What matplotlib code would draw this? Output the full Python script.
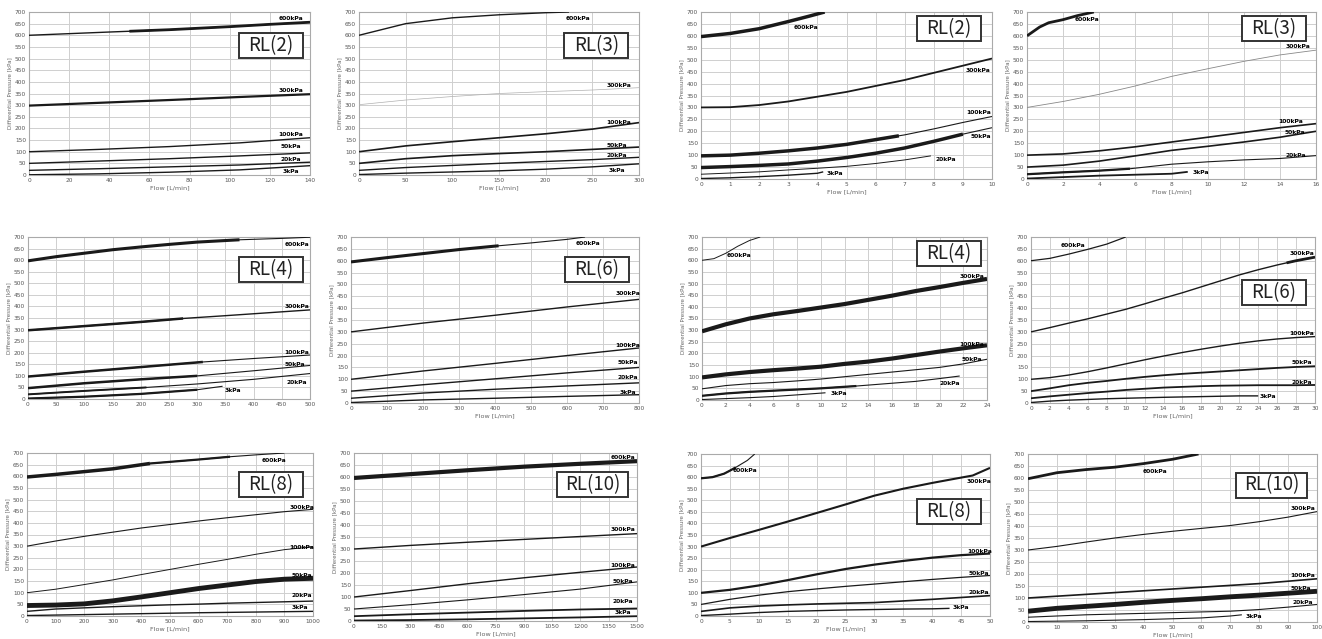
import numpy as np
import matplotlib.pyplot as plt
from matplotlib.patches import Rectangle

plt.rcParams['font.family'] = ['DejaVu Sans']

# curve names, top to bottom
names = ["600kPa", "300kPa", "100kPa", "50kPa", "20kPa", "3kPa"]

# ---- panel data: flow [L/min] -> differential pressure [kPa] ----
# RL(2), large flow
p1 = {
    "600kPa": ([0, 20, 40, 70, 100, 120, 140], [600, 607, 614, 624, 637, 647, 656]),
    "300kPa": ([0, 35, 70, 105, 140], [298, 310, 322, 335, 347]),
    "100kPa": ([0, 35, 70, 105, 140], [100, 110, 122, 138, 160]),
    "50kPa": ([0, 35, 70, 105, 140], [50, 60, 70, 82, 95]),
    "20kPa": ([0, 35, 70, 105, 140], [20, 27, 35, 43, 55]),
    "3kPa": ([0, 35, 70, 105, 140], [1, 5, 12, 22, 40]),
}
# RL(3), large flow
p2 = {
    "600kPa": ([0, 50, 100, 150, 200, 225], [600, 650, 675, 688, 697, 700]),
    "300kPa": ([0, 50, 100, 150, 200, 250, 300], [302, 322, 337, 350, 358, 365, 375]),
    "100kPa": ([0, 50, 100, 150, 200, 250, 300], [100, 125, 143, 160, 177, 197, 225]),
    "50kPa": ([0, 50, 100, 150, 200, 250, 300], [50, 70, 83, 92, 100, 110, 120]),
    "20kPa": ([0, 50, 100, 150, 200, 250, 300], [20, 32, 41, 50, 58, 66, 76]),
    "3kPa": ([0, 50, 100, 150, 200, 250, 300], [2, 8, 13, 18, 25, 35, 48]),
}
# RL(2), small flow
p3 = {
    "600kPa": ([0, 1, 2, 3, 3.7, 4.25], [597, 610, 630, 660, 682, 700]),
    "300kPa": ([0, 1, 2, 3, 4, 5, 6, 7, 8, 9, 10], [300, 301, 310, 325, 345, 365, 390, 415, 445, 475, 505]),
    "100kPa": ([0, 1, 2, 3, 4, 5, 6, 7, 8, 9, 10], [97, 100, 108, 118, 130, 145, 165, 185, 210, 237, 262]),
    "50kPa": ([0, 1, 2, 3, 4, 5, 6, 7, 8, 9, 10], [48, 52, 57, 63, 75, 90, 108, 130, 158, 188, 215]),
    "20kPa": ([0, 1, 2, 3, 4, 5, 6, 7, 7.9], [20, 25, 30, 38, 45, 53, 65, 80, 97]),
    "3kPa": ([0, 1, 2, 3, 4, 4.2], [2, 5, 10, 16, 24, 30]),
}
# RL(3), small flow
p4 = {
    "600kPa": ([0, 0.7, 1.2, 2, 2.8, 3.7], [600, 637, 655, 668, 685, 700]),
    "300kPa": ([0, 2, 4, 6, 8, 10, 12, 14, 16], [300, 325, 355, 390, 430, 462, 493, 520, 540]),
    "100kPa": ([0, 2, 4, 6, 8, 10, 12, 14, 16], [100, 105, 118, 135, 155, 175, 195, 215, 232]),
    "50kPa": ([0, 2, 4, 6, 8, 10, 12, 14, 16], [50, 58, 75, 97, 120, 137, 155, 175, 200]),
    "20kPa": ([0, 2, 4, 5.7, 8, 10, 12, 14, 16], [20, 28, 35, 43, 62, 72, 80, 86, 98]),
    "3kPa": ([0, 2, 4, 6, 8, 8.9], [2, 8, 14, 18, 22, 30]),
}
# RL(4), large flow
p5 = {
    "600kPa": ([0, 50, 100, 150, 200, 250, 300, 375, 450, 500], [597, 615, 630, 645, 657, 668, 678, 688, 694, 699]),
    "300kPa": ([0, 100, 200, 275, 350, 500], [297, 315, 333, 348, 360, 385]),
    "100kPa": ([0, 100, 200, 310, 400, 500], [97, 118, 138, 160, 175, 190]),
    "50kPa": ([0, 100, 200, 300, 400, 500], [47, 68, 85, 100, 122, 145]),
    "20kPa": ([0, 100, 210, 300, 400, 500], [20, 35, 50, 65, 85, 110]),
    "3kPa": ([0, 100, 200, 300, 345], [2, 10, 22, 40, 55]),
}
# RL(6), large flow
p6 = {
    "600kPa": ([0, 100, 200, 300, 410, 500, 600, 650], [595, 613, 630, 647, 663, 675, 690, 700]),
    "300kPa": ([0, 200, 400, 600, 800], [300, 337, 370, 405, 437]),
    "100kPa": ([0, 200, 400, 600, 800], [100, 135, 167, 200, 232]),
    "50kPa": ([0, 200, 400, 600, 800], [50, 77, 102, 127, 150]),
    "20kPa": ([0, 200, 400, 600, 800], [20, 42, 58, 72, 85]),
    "3kPa": ([0, 200, 400, 600, 800], [2, 13, 20, 28, 35]),
}
# RL(4), small flow
p7 = {
    "600kPa": ([0, 1, 2, 3, 4, 4.9], [600, 607, 630, 660, 685, 700]),
    "300kPa": ([0, 2, 4, 6, 8, 10, 12, 14, 16, 18, 20, 22, 24],
               [295, 325, 350, 368, 382, 397, 412, 430, 448, 468, 485, 503, 520]),
    "100kPa": ([0, 2, 4, 6, 8, 10, 12, 14, 16, 18, 20, 22, 24],
               [97, 110, 120, 128, 135, 143, 155, 165, 178, 193, 208, 222, 235]),
    "50kPa": ([0, 2, 4, 6, 8, 10, 12, 14, 16, 18, 20, 22, 24],
              [48, 62, 70, 75, 82, 90, 100, 110, 120, 130, 140, 155, 175]),
    "20kPa": ([0, 2, 4, 6, 8, 10, 13, 16, 18, 20, 21.7], [18, 28, 35, 40, 45, 50, 60, 72, 80, 92, 103]),
    "3kPa": ([0, 2, 4, 6, 8, 10.4], [2, 6, 10, 15, 22, 31]),
}
# RL(6), small flow
p8 = {
    "600kPa": ([0, 2, 4, 6, 8, 10], [600, 610, 628, 648, 670, 700]),
    "300kPa": ([0, 2, 4, 6, 8, 10, 12, 14, 16, 18, 20, 22, 24, 26, 28, 30],
               [300, 318, 337, 355, 375, 395, 418, 442, 465, 490, 515, 540, 562, 582, 600, 615]),
    "100kPa": ([0, 2, 4, 6, 8, 10, 12, 14, 16, 18, 20, 22, 24, 26, 28, 30],
               [100, 107, 118, 132, 148, 165, 182, 198, 213, 227, 240, 252, 262, 270, 276, 280]),
    "50kPa": ([0, 2, 4, 6, 8, 10, 12, 14, 16, 18, 20, 22, 24, 26, 28, 30],
              [50, 62, 75, 85, 93, 102, 110, 117, 123, 128, 133, 138, 143, 148, 152, 155]),
    "20kPa": ([0, 2, 4, 6, 8, 10, 12, 14, 16, 18, 20, 22, 24, 26, 28, 30],
              [20, 28, 35, 42, 48, 55, 60, 65, 68, 71, 73, 74, 75, 75, 75, 76]),
    "3kPa": ([0, 2, 4, 6, 8, 10, 14, 18, 22, 24], [2, 8, 12, 15, 18, 20, 24, 27, 30, 30]),
}
# RL(8), large flow
p9 = {
    "600kPa": ([0, 100, 200, 300, 430, 500, 600, 710, 800, 900],
               [597, 608, 620, 632, 655, 662, 672, 684, 692, 700]),
    "300kPa": ([0, 100, 200, 300, 400, 500, 600, 700, 800, 900, 1000],
               [300, 322, 342, 360, 378, 393, 408, 422, 435, 448, 458]),
    "100kPa": ([0, 100, 200, 300, 400, 500, 600, 700, 800, 900, 1000],
               [100, 115, 135, 155, 178, 200, 222, 243, 265, 285, 297]),
    "50kPa": ([0, 100, 200, 300, 400, 500, 600, 700, 800, 900, 1000],
              [45, 47, 52, 65, 82, 100, 118, 133, 148, 158, 162]),
    "20kPa": ([0, 100, 200, 300, 400, 500, 600, 700, 800, 900, 1000],
              [20, 30, 35, 40, 44, 48, 51, 55, 58, 61, 64]),
    "3kPa": ([0, 200, 400, 600, 800, 1000], [2, 6, 10, 14, 17, 20]),
}
# RL(10), large flow
p10 = {
    "600kPa": ([0, 300, 600, 900, 1200, 1500], [596, 612, 628, 643, 655, 666]),
    "300kPa": ([0, 300, 600, 900, 1200, 1500], [300, 315, 328, 340, 352, 364]),
    "100kPa": ([0, 300, 600, 900, 1200, 1500], [100, 127, 155, 180, 203, 225]),
    "50kPa": ([0, 300, 600, 900, 1200, 1500], [50, 68, 88, 110, 133, 163]),
    "20kPa": ([0, 300, 600, 900, 1200, 1500], [20, 28, 35, 42, 48, 52]),
    "3kPa": ([0, 300, 600, 900, 1200, 1500], [2, 4, 7, 11, 15, 20]),
}
# RL(8), small flow
p11 = {
    "600kPa": ([0, 2, 4, 5, 6, 8, 9.3], [595, 600, 615, 628, 642, 672, 700]),
    "300kPa": ([0, 5, 10, 15, 20, 25, 30, 35, 40, 45, 47, 50],
               [300, 337, 372, 408, 445, 482, 520, 550, 575, 598, 607, 640]),
    "100kPa": ([0, 5, 10, 15, 20, 25, 30, 35, 40, 45, 50],
               [100, 113, 132, 155, 180, 203, 222, 238, 252, 263, 270]),
    "50kPa": ([0, 5, 10, 15, 20, 25, 30, 35, 40, 45, 50],
              [50, 72, 90, 105, 117, 128, 138, 148, 158, 167, 175]),
    "20kPa": ([0, 5, 10, 15, 20, 25, 30, 35, 40, 45, 50],
              [20, 35, 43, 48, 52, 55, 58, 65, 72, 80, 88]),
    "3kPa": ([0, 5, 10, 15, 20, 25, 30, 35, 40, 43], [2, 8, 15, 20, 23, 26, 28, 30, 31, 33]),
}
# RL(10), small flow
p12 = {
    "600kPa": ([0, 10, 20, 30, 40, 50, 59], [597, 622, 635, 645, 660, 678, 700]),
    "300kPa": ([0, 10, 20, 30, 40, 50, 60, 70, 80, 90, 100],
               [300, 315, 333, 350, 365, 378, 390, 402, 418, 437, 460]),
    "100kPa": ([0, 20, 40, 60, 80, 100], [100, 115, 130, 145, 160, 180]),
    "50kPa": ([0, 10, 20, 30, 40, 50, 60, 70, 80, 90, 100],
              [45, 57, 65, 73, 82, 90, 97, 105, 112, 120, 128]),
    "20kPa": ([0, 20, 40, 60, 70, 80, 90, 100], [20, 30, 36, 42, 45, 52, 62, 73]),
    "3kPa": ([0, 20, 40, 60, 70, 74], [2, 5, 10, 17, 25, 30]),
}

panel_data = [p1, p2, p3, p4, p5, p6, p7, p8, p9, p10, p11, p12]
titles = ["RL(2)", "RL(3)", "RL(2)", "RL(3)", "RL(4)", "RL(6)",
          "RL(4)", "RL(6)", "RL(8)", "RL(10)", "RL(8)", "RL(10)"]
x_max = [140, 300, 10, 16, 500, 800, 24, 30, 1000, 1500, 50, 100]
x_step = [20, 50, 1, 2, 50, 100, 2, 2, 100, 150, 5, 10]

# ---- layout / style ----
W, H = 1322, 639
# axes box in pixels: left, right, top, bottom
ax_px = [(29, 310, 12, 175), (359, 639, 12, 175), (701, 992, 12, 179), (1027, 1316, 12, 179),
         (28, 310, 237, 399), (351, 639, 237, 403), (702, 987, 237, 400), (1031, 1315, 237, 403),
         (27, 313, 453, 616), (354, 637, 453, 621), (701, 990, 454, 616), (1028, 1317, 454, 622)]
# RL box centre in axes fraction
box_pos = [(0.86, 0.795), (0.848, 0.795), (0.852, 0.90), (0.855, 0.90),
           (0.862, 0.80), (0.854, 0.804), (0.867, 0.90), (0.856, 0.663),
           (0.853, 0.804), (0.843, 0.81), (0.858, 0.645), (0.843, 0.815)]
show_xlabel = [True, True, True, True, False, True, False, True, True, True, True, True]

# curve label positions (data coords), same order as names
label_pos = [
    [(130.5, 671), (130.5, 364), (130.5, 176), (130.5, 124), (130.5, 67), (130.5, 14)],
    [(235, 671), (278, 386), (278, 224), (276, 126), (276, 83), (276, 19)],
    [(3.6, 637), (9.5, 456), (9.55, 278), (9.6, 178), (8.4, 83), (4.6, 25)],
    [(3.3, 670), (15, 554), (14.6, 239), (14.8, 195), (14.9, 100), (9.6, 26)],
    [(476, 669), (476, 398), (476, 203), (473, 147), (476, 71), (364, 37)],
    [(659, 672), (768, 462), (768, 241), (768, 172), (768, 106), (768, 46)],
    [(3.1, 622), (22.7, 531), (22.7, 237), (22.7, 175), (20.9, 71), (11.5, 28)],
    [(4.4, 665), (28.6, 630), (28.6, 293), (28.6, 171), (28.6, 87), (25, 28)],
    [(862, 669), (962, 466), (962, 294), (962, 172), (962, 86), (955, 36)],
    [(1426, 681), (1426, 382), (1426, 233), (1426, 163), (1426, 80), (1426, 36)],
    [(7.6, 628), (48, 581), (48.2, 278), (48, 184), (48, 101), (45, 35)],
    [(44, 626), (95, 472), (95, 193), (94.5, 140), (95, 82), (78, 22)],
]

# line style per curve: (base width, colour, [(x0, x1, thick width), ...])
K = '#1a1a1a'
styles = [
    [(1.0, K, [(50, 140, 2.0)]), (1.6, K, []), (1.0, K, []), (1.0, K, []), (1.0, K, []), (1.0, K, [])],
    [(1.0, K, []), (0.5, '#b0b0b0', []), (1.2, K, []), (1.2, K, []), (1.0, K, []), (1.0, K, [])],
    [(2.5, K, []), (1.3, K, []), (0.8, K, [(0, 6.8, 2.5)]), (0.8, K, [(0, 9, 2.5)]), (0.7, K, []), (1.0, K, [])],
    [(2.0, K, []), (0.6, '#888888', []), (1.2, K, []), (1.2, K, []), (0.8, K, [(0, 5.7, 1.6)]), (1.3, K, [])],
    [(0.8, K, [(0, 375, 2.2)]), (1.0, K, [(0, 275, 1.8)]), (0.8, K, [(0, 310, 1.8)]),
     (0.8, K, [(0, 300, 1.8)]), (0.8, K, [(0, 210, 1.4)]), (0.8, K, [(0, 300, 1.6)])],
    [(0.8, K, [(0, 410, 2.2)]), (1.0, K, []), (1.0, K, []), (1.0, K, []), (1.0, K, []), (1.0, K, [])],
    [(0.7, K, []), (3.0, K, []), (3.0, K, []), (0.8, K, []), (0.8, K, [(0, 13, 1.6)]), (0.8, K, [])],
    [(0.9, K, []), (1.0, K, [(27, 30, 2.0)]), (1.0, K, []), (1.3, K, []), (1.3, K, []), (1.0, K, [])],
    [(0.8, K, [(0, 430, 2.5), (430, 710, 1.6)]), (0.8, K, []), (0.7, K, []), (3.5, K, []), (1.0, K, []), (1.0, K, [])],
    [(3.0, K, []), (1.0, K, []), (1.0, K, []), (0.8, K, []), (1.3, K, []), (1.3, K, [])],
    [(0.8, K, [(0, 6, 1.6)]), (1.5, K, []), (1.6, K, []), (0.9, K, []), (1.2, K, []), (1.0, K, [])],
    [(2.0, K, []), (0.8, K, []), (1.2, K, []), (3.5, K, []), (0.8, K, []), (0.8, K, [])],
]

fig = plt.figure(figsize=(W / 100, H / 100), dpi=100)

for i in range(12):
    l, r, t, b = ax_px[i]
    ax = fig.add_axes([l / W, 1 - b / H, (r - l) / W, (b - t) / H])
    data = panel_data[i]

    for j, name in enumerate(names):
        xs, ys = data[name]
        xs = np.asarray(xs, float)
        ys = np.asarray(ys, float)
        lw, col, thick = styles[i][j]
        ax.plot(xs, ys, color=col, lw=lw, solid_capstyle='butt', zorder=3)
        for x0, x1, tw in thick:
            sel = (xs > x0) & (xs < x1)
            sx = np.concatenate([[x0], xs[sel], [x1]])
            sy = np.interp(sx, xs, ys)
            ax.plot(sx, sy, color=col, lw=tw, solid_capstyle='butt', zorder=3)
        lx, ly = label_pos[i][j]
        ax.text(lx, ly, name, fontsize=4.3, fontweight='bold', color='black',
                ha='center', va='center', zorder=4)

    ax.set_xlim(0, x_max[i])
    ax.set_ylim(0, 700)
    ax.set_xticks(np.arange(0, x_max[i] + 0.001, x_step[i]))
    ax.set_yticks(np.arange(0, 701, 50))
    ax.grid(True, color='#cfcfcf', lw=0.7)
    ax.set_axisbelow(True)
    for s in ax.spines.values():
        s.set_color('#aaaaaa')
        s.set_linewidth(0.8)
    ax.tick_params(length=0, pad=2, labelsize=4.2, colors='#555555')
    ax.set_ylabel('Differential Pressure [kPa]', fontsize=4, color='#666666', labelpad=2)
    if show_xlabel[i]:
        ax.set_xlabel('Flow [L/min]', fontsize=4.6, color='#666666', labelpad=1.5)

    # RL box
    bw = (71 if len(titles[i]) > 5 else 64) / (r - l)
    bh = 25 / (b - t)
    cx, cy = box_pos[i]
    ax.add_patch(Rectangle((cx - bw / 2, cy - bh / 2), bw, bh, transform=ax.transAxes,
                           facecolor='white', edgecolor='#333333', lw=1.4, zorder=5))
    ax.text(cx, cy, titles[i], transform=ax.transAxes, fontsize=13.5,
            family=['Noto Sans CJK JP', 'DejaVu Sans'], color='#222222',
            ha='center', va='center', zorder=6)

fig.savefig('out.png', dpi=100, facecolor='white')
